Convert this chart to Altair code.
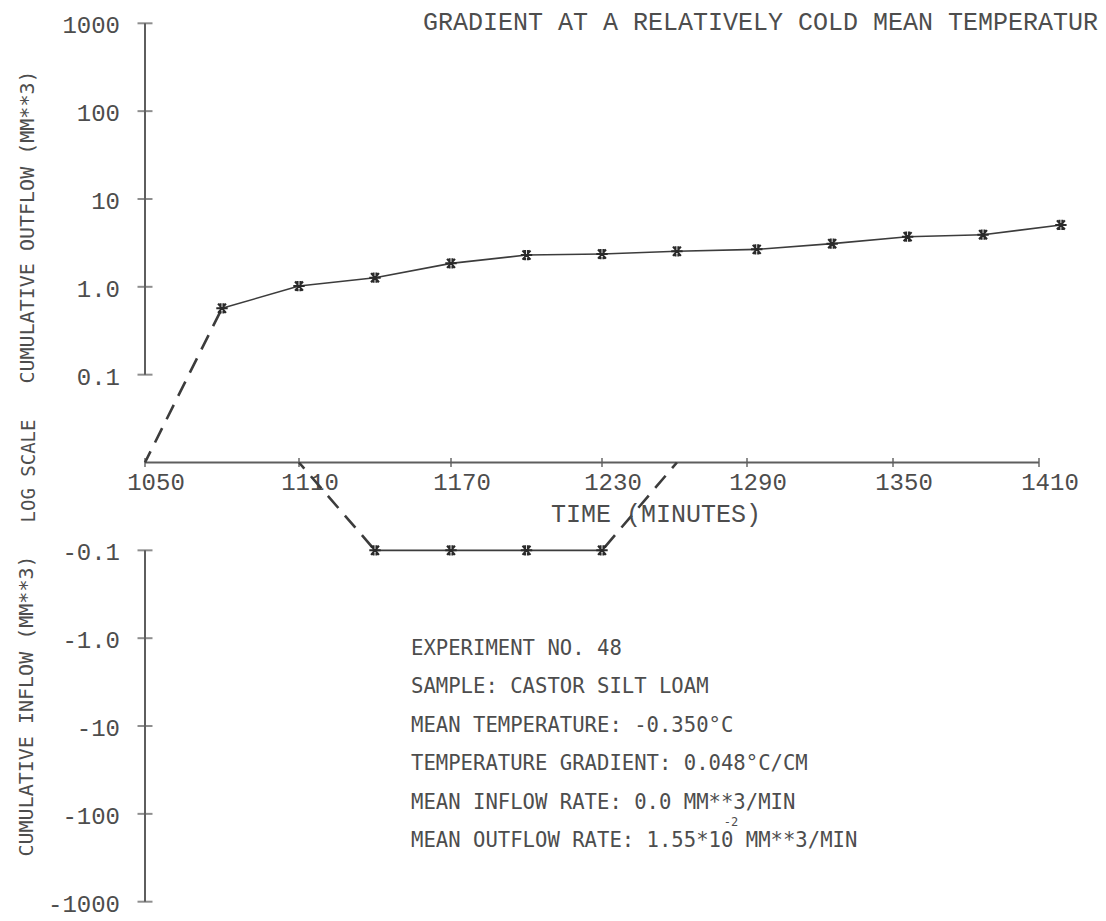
import altair as alt
import pandas as pd

# ---------------- data ----------------
times = [1050, 1080, 1110, 1140, 1170, 1200, 1230, 1261, 1294, 1325, 1356, 1387, 1419]
outflow = [0, 0.57, 1.02, 1.27, 1.85, 2.30, 2.36, 2.54, 2.67, 3.10, 3.72, 3.92, 5.06]
inflow = [0, 0, 0, -0.1, -0.1, -0.1, -0.1, 0, 0, 0, 0, 0, 0]

x_ticks = [1050, 1110, 1170, 1230, 1290, 1350, 1410]
x_tick_labels = ["1050", "1110", "1170", "1230", "1290", "1350", "1410"]
out_ticks = [0.1, 1, 10, 100, 1000]
out_tick_labels = ["0.1", "1.0", "10", "100", "1000"]
in_ticks = [-0.1, -1, -10, -100, -1000]
in_tick_labels = ["-0.1", "-1.0", "-10", "-100", "-1000"]

title_text = "GRADIENT AT A RELATIVELY COLD MEAN TEMPERATUR"
x_title = "TIME (MINUTES)"
y_title_out = "CUMULATIVE OUTFLOW (MM**3)"
y_title_mid = "LOG SCALE"
y_title_in = "CUMULATIVE INFLOW (MM**3)"
notes = [
    "EXPERIMENT NO. 48",
    "SAMPLE: CASTOR SILT LOAM",
    "MEAN TEMPERATURE: -0.350°C",
    "TEMPERATURE GRADIENT: 0.048°C/CM",
    "MEAN INFLOW RATE: 0.0 MM**3/MIN",
    "MEAN OUTFLOW RATE: 1.55*10 MM**3/MIN",
]
note_exponent = "-2"

# ---------------- tables built from the arrays ----------------
seg_rows = []
for series in (outflow, inflow):
    for i in range(len(times) - 1):
        a, b = series[i], series[i + 1]
        ta, tb = times[i], times[i + 1]
        if a == 0 and b == 0:
            continue
        if a == 0:  # draw dashed transitions starting from the plotted point
            ta, tb, a, b = tb, ta, b, a
        seg_rows.append(dict(t1=ta, t2=tb, v1=a, v2=b,
                             kind="dashed" if (a == 0 or b == 0) else "solid"))
segments = pd.DataFrame(seg_rows)

pts = pd.DataFrame(
    [dict(t=t, v=v) for t, v in zip(times, outflow) if v != 0]
    + [dict(t=t, v=v) for t, v in zip(times, inflow) if v != 0]
)

axes_df = pd.DataFrame([
    dict(t1=x_ticks[0], t2=x_ticks[0], v1=out_ticks[0], v2=out_ticks[-1]),
    dict(t1=x_ticks[0], t2=x_ticks[0], v1=in_ticks[0], v2=in_ticks[-1]),
    dict(t1=x_ticks[0], t2=x_ticks[-1], v1=0, v2=0),
])

yticks_df = pd.DataFrame(dict(t=x_ticks[0], v=out_ticks + in_ticks,
                              label=out_tick_labels + in_tick_labels))
xticks_df = pd.DataFrame(dict(t=x_ticks, v=0, label=x_tick_labels))
one = pd.DataFrame({"a": [0]})


def pos(f):
    return (f"datum.{f} == 0 ? 0 : (datum.{f} > 0 ? log(datum.{f})/LN10 + 2 "
            f": -(log(-datum.{f})/LN10 + 2))")


xs = alt.Scale(domain=x_ticks, range=[145, 299, 451, 602, 747, 893, 1039],
               zero=False, nice=False)
ys = alt.Scale(domain=[-5, 5], range=[901.7, 23.3], zero=False, nice=False)

INK = "#4d4d4d"
AX = "#5e5e5e"
F1 = "Liberation Mono"
F2 = "DejaVu Sans Mono"

axis_lines = alt.Chart(axes_df).mark_rule(color=AX, strokeWidth=2).transform_calculate(
    p1=pos("v1"), p2=pos("v2")
).encode(
    x=alt.X("t1:Q", scale=xs, axis=None), x2="t2:Q",
    y=alt.Y("p1:Q", scale=ys, axis=None), y2="p2:Q",
)

y_tick_marks = alt.Chart(yticks_df).mark_tick(
    orient="horizontal", size=15, thickness=2, color=AX
).transform_calculate(p=pos("v")).encode(
    x=alt.X("t:Q", scale=xs, axis=None), y=alt.Y("p:Q", scale=ys, axis=None)
)

x_tick_marks = alt.Chart(xticks_df).mark_tick(
    orient="vertical", size=9, thickness=2, color=AX
).transform_calculate(p=pos("v")).encode(
    x=alt.X("t:Q", scale=xs, axis=None), y=alt.Y("p:Q", scale=ys, axis=None)
)

y_tick_text = alt.Chart(yticks_df).mark_text(
    align="right", baseline="middle", dx=-25, dy=3, font=F1, fontSize=24, color=INK
).transform_calculate(p=pos("v")).encode(
    x=alt.X("t:Q", scale=xs, axis=None), y=alt.Y("p:Q", scale=ys, axis=None),
    text="label:N",
)

x_tick_text = alt.Chart(xticks_df).mark_text(
    align="center", baseline="alphabetic", dx=11, dy=27, font=F1, fontSize=24, color=INK
).transform_calculate(p=pos("v")).encode(
    x=alt.X("t:Q", scale=xs, axis=None), y=alt.Y("p:Q", scale=ys, axis=None),
    text="label:N",
)

solid = alt.Chart(segments).transform_filter("datum.kind == 'solid'").transform_calculate(
    p1=pos("v1"), p2=pos("v2")
).mark_rule(color="#3c3c3c", strokeWidth=1.6).encode(
    x=alt.X("t1:Q", scale=xs, axis=None), x2="t2:Q",
    y=alt.Y("p1:Q", scale=ys, axis=None), y2="p2:Q",
)

dashed = alt.Chart(segments).transform_filter("datum.kind == 'dashed'").transform_calculate(
    p1=pos("v1"), p2=pos("v2")
).mark_rule(color="#3c3c3c", strokeWidth=2.6, strokeDash=[16, 10], strokeDashOffset=-4).encode(
    x=alt.X("t1:Q", scale=xs, axis=None), x2="t2:Q",
    y=alt.Y("p1:Q", scale=ys, axis=None), y2="p2:Q",
)

ASTER = "M-1,0L1,0M-0.7,-0.8L0.7,0.8M-0.7,0.8L0.7,-0.8M-0.25,-0.9L-0.25,0.9M0.25,-0.9L0.25,0.9"
markers = alt.Chart(pts).transform_calculate(p=pos("v")).mark_point(
    shape=ASTER, size=130, filled=False, color="#2a2a2a", strokeWidth=2, opacity=1
).encode(
    x=alt.X("t:Q", scale=xs, axis=None), y=alt.Y("p:Q", scale=ys, axis=None)
)


def label(txt, x, y, size, font=F1, angle=0, align="left", baseline="alphabetic", lh=None):
    kw = dict(align=align, baseline=baseline, font=font, fontSize=size, color=INK, angle=angle)
    if lh is not None:
        kw["lineHeight"] = lh
    return alt.Chart(one).mark_text(**kw).encode(
        x=alt.value(x), y=alt.value(y), text=alt.value(txt)
    )


texts = [
    label(title_text, 423, 29.5, 25),
    label(x_title, 551, 522, 25),
    label(y_title_out, 28, 227, 20, font=F2, angle=270, align="center", baseline="middle"),
    label(y_title_mid, 29, 471, 19, font=F2, angle=270, align="center", baseline="middle"),
    label(y_title_in, 27, 706, 20, font=F2, angle=270, align="center", baseline="middle"),
    label(notes, 411, 655, 20.6, font=F2, lh=38.4),
    label(note_exponent, 731, 826, 12, font=F2, align="center"),
]

chart = alt.layer(
    axis_lines, y_tick_marks, x_tick_marks, y_tick_text, x_tick_text,
    dashed, solid, markers, *texts
).properties(
    width=1106, height=921, autosize=alt.AutoSizeParams(type="none"),
    padding=0, background="white"
).configure_view(strokeWidth=0)

chart.save("out.html", embed_options={"renderer": "svg", "actions": False})
